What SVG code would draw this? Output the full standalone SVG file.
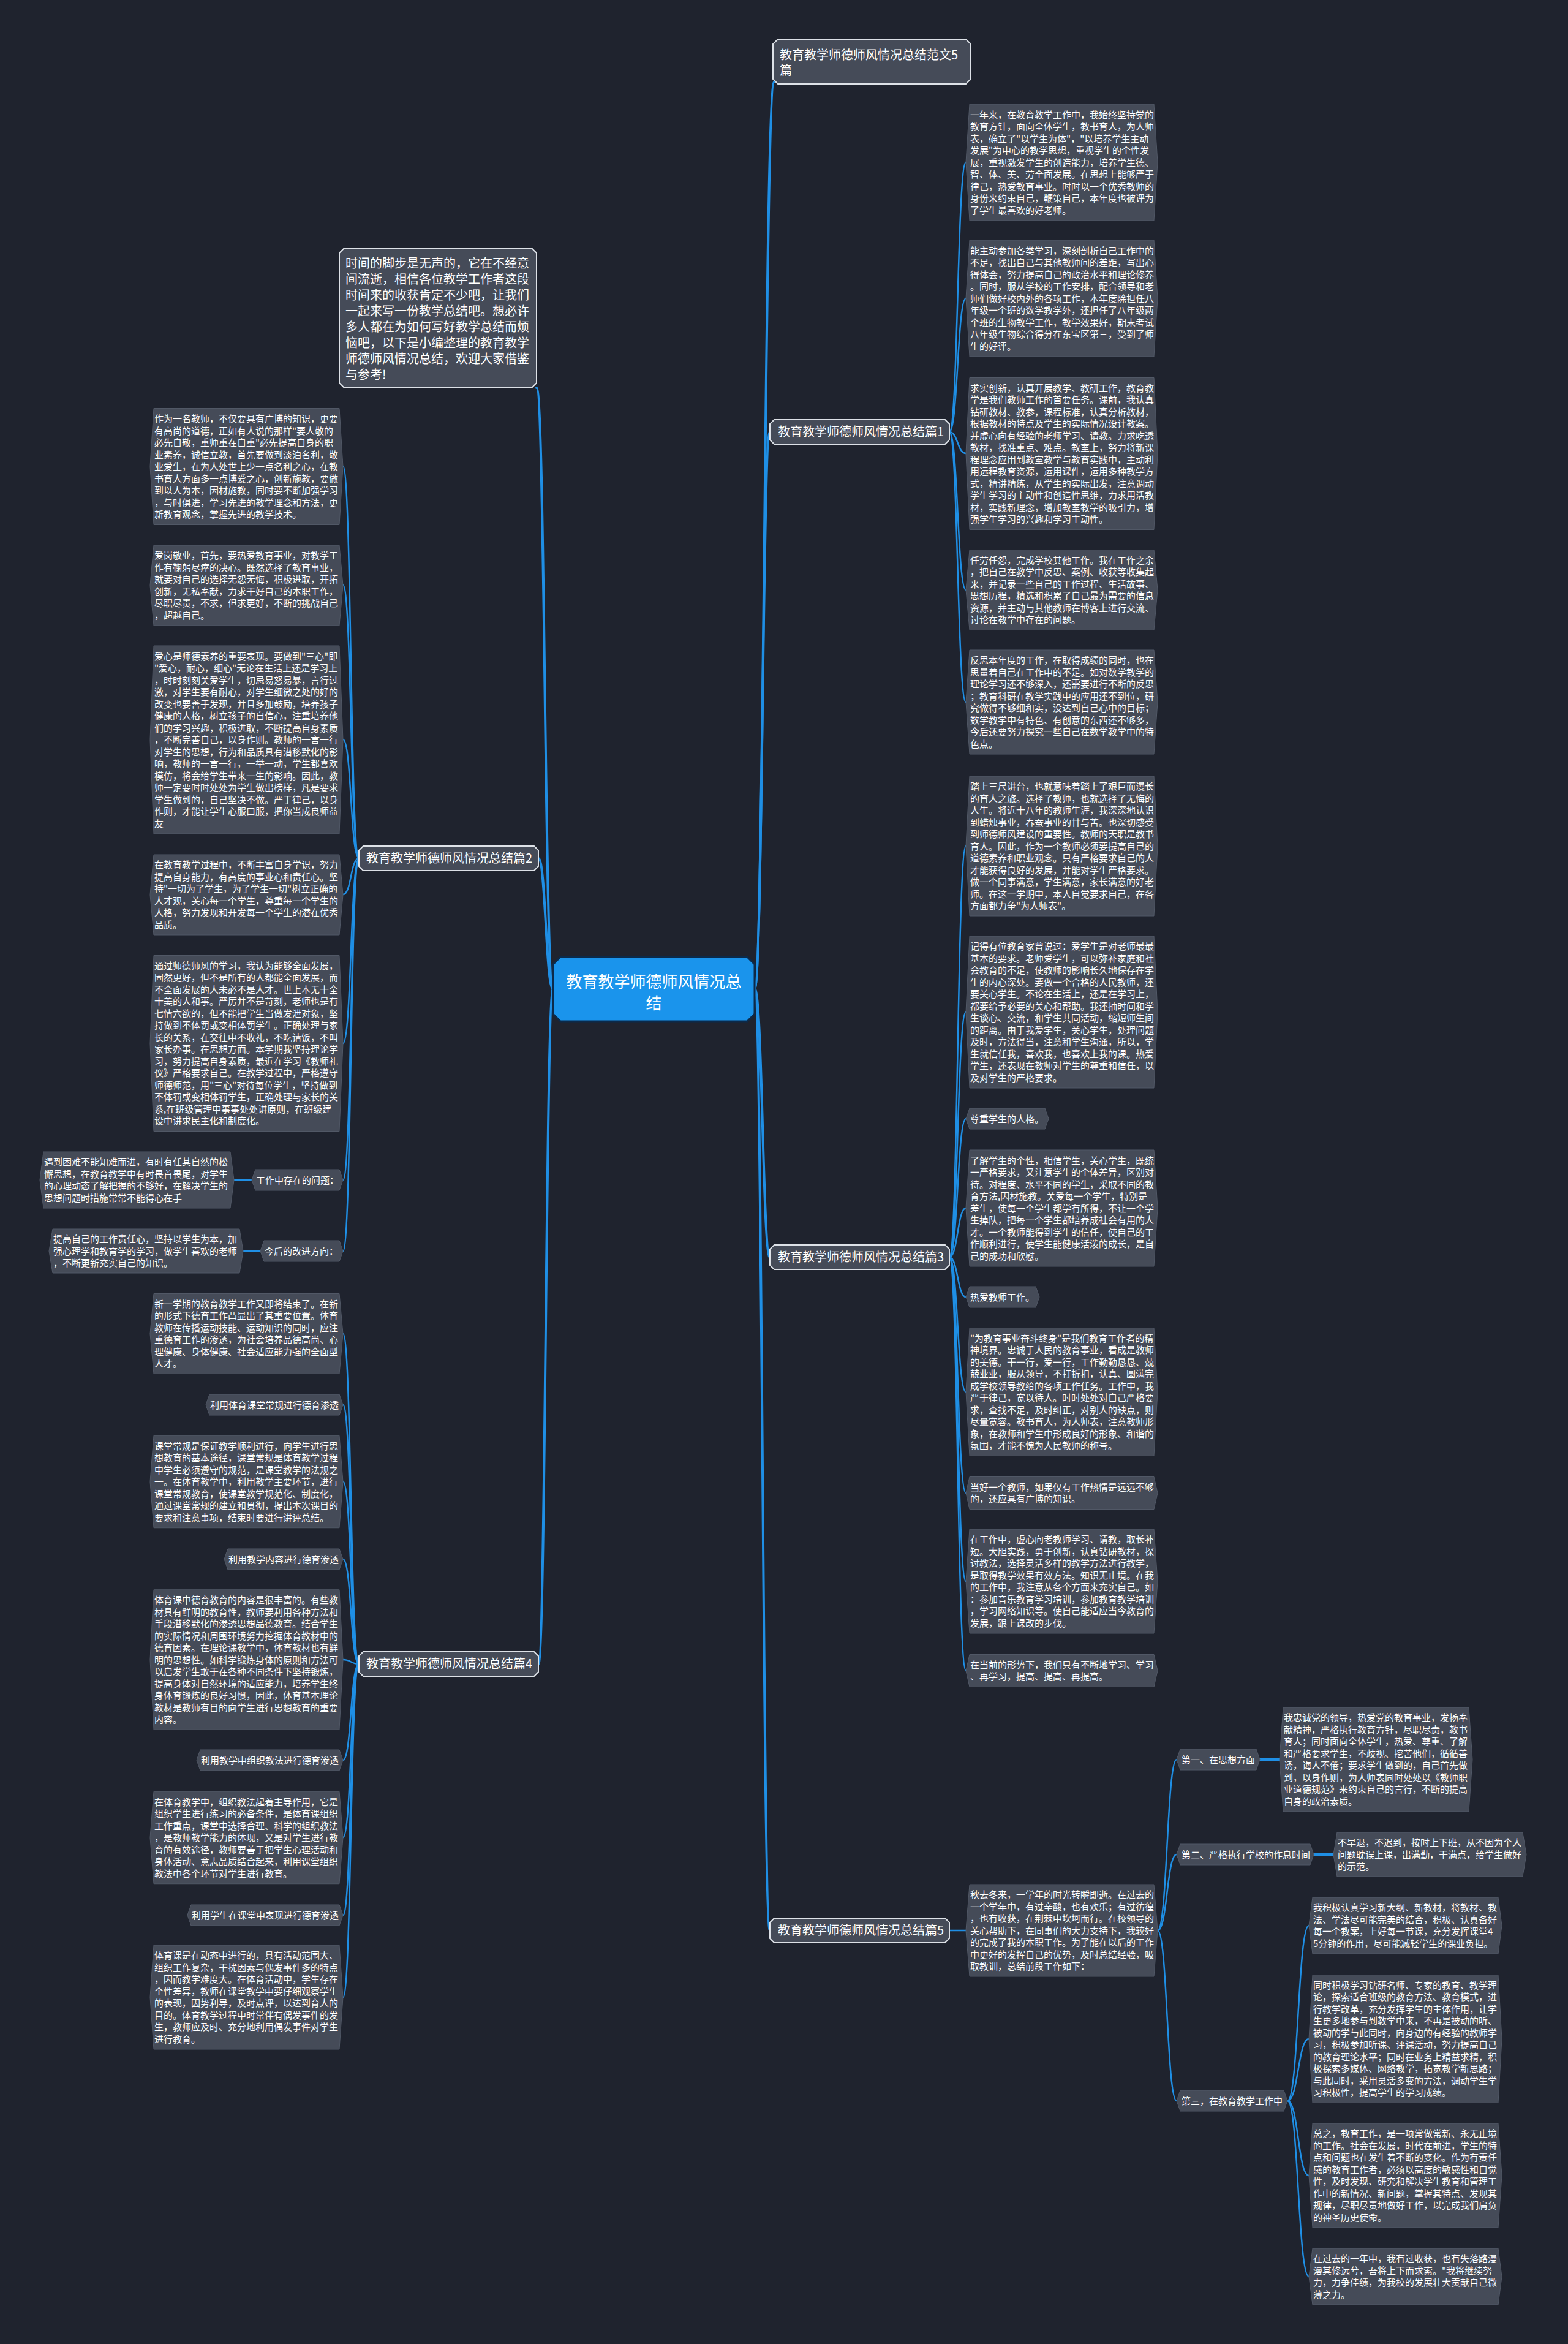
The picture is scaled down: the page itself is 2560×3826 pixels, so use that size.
<svg xmlns="http://www.w3.org/2000/svg" width="2560" height="3826" viewBox="0 0 2560 3826">
<style>
.bg{fill:#1f232e}
.lf{fill:#454b58;stroke:#515866;stroke-width:1}
.mb{fill:#454b58;stroke:#dde1e7;stroke-width:2}
.cn{fill:#1a94ec;stroke:#0c2a4a;stroke-width:3}
.c{fill:none;stroke:#1f8fe5;stroke-width:2.5;stroke-linecap:round}
.c1{fill:none;stroke:#1f8fe5;stroke-width:4;stroke-linecap:round}
text{font-family:"Noto Sans CJK SC","Noto Sans",sans-serif;fill:#ffffff}
.t{font-size:15px}
.tm{font-size:20px}
.tc{font-size:26px;text-anchor:middle}
</style>
<rect class="bg" x="0" y="0" width="2560" height="3826"/>
<g id="connectors">
<path class="c1" d="M1232 1614 C1248 1614 1248 134 1264 134"/>
<path class="c1" d="M1232 1614 C1245 1614 1245 705 1257 705"/>
<path class="c1" d="M1232 1614 C1245 1614 1245 2052 1257 2052"/>
<path class="c1" d="M1232 1614 C1245 1614 1245 3151 1257 3151"/>
<path class="c1" d="M903 1614 C889 1614 890 633 876 633"/>
<path class="c1" d="M903 1614 C891 1614 891 1401 879 1401"/>
<path class="c1" d="M903 1614 C891 1614 891 2716 879 2716"/>
<path class="c" d="M1550 705 C1564 705 1563 265 1577 265"/>
<path class="c" d="M1550 705 C1564 705 1563 487 1577 487"/>
<path class="c" d="M1550 705 C1564 705 1563 740 1577 740"/>
<path class="c" d="M1550 705 C1564 705 1563 963 1577 963"/>
<path class="c" d="M1550 705 C1564 705 1563 1146 1577 1146"/>
<path class="c" d="M1550 2052 C1564 2052 1563 1381 1577 1381"/>
<path class="c" d="M1550 2052 C1564 2052 1563 1652 1577 1652"/>
<path class="c" d="M1550 2052 C1564 2052 1563 1826 1577 1826"/>
<path class="c" d="M1550 2052 C1564 2052 1563 1972 1577 1972"/>
<path class="c" d="M1550 2052 C1564 2052 1563 2117 1577 2117"/>
<path class="c" d="M1550 2052 C1564 2052 1563 2272 1577 2272"/>
<path class="c" d="M1550 2052 C1564 2052 1563 2437 1577 2437"/>
<path class="c" d="M1550 2052 C1564 2052 1563 2581 1577 2581"/>
<path class="c" d="M1550 2052 C1564 2052 1563 2727 1577 2727"/>
<path class="c" d="M1550 3151 L1577 3151"/>
<path class="c" d="M1890 3151 C1906 3151 1905 2872 1921 2872"/>
<path class="c" d="M1890 3151 C1906 3151 1905 3027 1921 3027"/>
<path class="c" d="M1890 3151 C1906 3151 1905 3429 1921 3429"/>
<path class="c1" d="M2057 2872 L2089 2872"/>
<path class="c1" d="M2145 3027 L2177 3027"/>
<path class="c" d="M2102 3429 C2120 3429 2119 3143 2137 3143"/>
<path class="c" d="M2102 3429 C2120 3429 2119 3328 2137 3328"/>
<path class="c" d="M2102 3429 C2120 3429 2119 3551 2137 3551"/>
<path class="c" d="M2102 3429 C2120 3429 2119 3716 2137 3716"/>
<path class="c" d="M586 1401 C572 1401 574 761 560 761"/>
<path class="c" d="M586 1401 C572 1401 574 955 560 955"/>
<path class="c" d="M586 1401 C572 1401 574 1207 560 1207"/>
<path class="c" d="M586 1401 C572 1401 574 1460 560 1460"/>
<path class="c" d="M586 1401 C572 1401 574 1703 560 1703"/>
<path class="c" d="M586 1401 C572 1401 574 1926 560 1926"/>
<path class="c" d="M586 1401 C572 1401 574 2042 560 2042"/>
<path class="c1" d="M411 1926 L382 1926"/>
<path class="c1" d="M425 2042 L397 2042"/>
<path class="c" d="M586 2716 C572 2716 574 2177 560 2177"/>
<path class="c" d="M586 2716 C572 2716 574 2293 560 2293"/>
<path class="c" d="M586 2716 C572 2716 574 2418 560 2418"/>
<path class="c" d="M586 2716 C572 2716 574 2545 560 2545"/>
<path class="c" d="M586 2716 C572 2716 574 2709 560 2709"/>
<path class="c" d="M586 2716 C572 2716 574 2873 560 2873"/>
<path class="c" d="M586 2716 C572 2716 574 2999 560 2999"/>
<path class="c" d="M586 2716 C572 2716 574 3126 560 3126"/>
<path class="c" d="M586 2716 C572 2716 574 3260 560 3260"/>
</g>
<g id="center">
<polygon class="cn" points="915,1562 1220,1562 1232,1574 1232,1655 1220,1667 915,1667 903,1655 903,1574"/>
<text class="tc" x="1067.5" y="1612">教育教学师德师风情况总</text>
<text class="tc" x="1067.5" y="1647">结</text>
</g>
<g id="b0">
<polygon class="mb" points="1270,64 1577,64 1585,72 1585,129 1577,137 1270,137 1262,129 1262,72"/>
<text class="tm" x="1273" y="97">教育教学师德师风情况总结范文5<tspan x="1273" dy="25">篇</tspan></text>
</g>
<g id="intro">
<polygon class="mb" points="562,405 868,405 876,413 876,625 868,633 562,633 554,625 554,413"/>
<text class="tm" x="564" y="437">时间的脚步是无声的，它在不经意<tspan x="564" dy="26">间流逝，相信各位教学工作者这段</tspan><tspan x="564" dy="26">时间来的收获肯定不少吧，让我们</tspan><tspan x="564" dy="26">一起来写一份教学总结吧。想必许</tspan><tspan x="564" dy="26">多人都在为如何写好教学总结而烦</tspan><tspan x="564" dy="26">恼吧，以下是小编整理的教育教学</tspan><tspan x="564" dy="26">师德师风情况总结，欢迎大家借鉴</tspan><tspan x="564" dy="26">与参考!</tspan></text>
</g>
<g id="b1">
<polygon class="mb" points="1264,685 1543,685 1550,692 1550,718 1543,725 1264,725 1257,718 1257,692"/>
<text class="tm" x="1270" y="712">教育教学师德师风情况总结篇1</text>
</g>
<g id="b3">
<polygon class="mb" points="1264,2032 1543,2032 1550,2039 1550,2065 1543,2072 1264,2072 1257,2065 1257,2039"/>
<text class="tm" x="1270" y="2059">教育教学师德师风情况总结篇3</text>
</g>
<g id="b5">
<polygon class="mb" points="1264,3131 1543,3131 1550,3138 1550,3164 1543,3171 1264,3171 1257,3164 1257,3138"/>
<text class="tm" x="1270" y="3158">教育教学师德师风情况总结篇5</text>
</g>
<g id="b2">
<polygon class="mb" points="593,1381 872,1381 879,1388 879,1414 872,1421 593,1421 586,1414 586,1388"/>
<text class="tm" x="598" y="1408">教育教学师德师风情况总结篇2</text>
</g>
<g id="b4">
<polygon class="mb" points="593,2696 872,2696 879,2703 879,2729 872,2736 593,2736 586,2729 586,2703"/>
<text class="tm" x="598" y="2723">教育教学师德师风情况总结篇4</text>
</g>
<g id="b1-1">
<polygon class="lf" points="1583,170 1884,170 1890,265 1884,360 1583,360 1577,265"/>
<text class="t" x="1584" y="192.5">一年来，在教育教学工作中，我始终坚持党的<tspan x="1584" dy="19.5">教育方针，面向全体学生，教书育人，为人师</tspan><tspan x="1584" dy="19.5">表，确立了"以学生为体"，"以培养学生主动</tspan><tspan x="1584" dy="19.5">发展"为中心的教学思想，重视学生的个性发</tspan><tspan x="1584" dy="19.5">展，重视激发学生的创造能力，培养学生德、</tspan><tspan x="1584" dy="19.5">智、体、美、劳全面发展。在思想上能够严于</tspan><tspan x="1584" dy="19.5">律己，热爱教育事业。时时以一个优秀教师的</tspan><tspan x="1584" dy="19.5">身份来约束自己，鞭策自己，本年度也被评为</tspan><tspan x="1584" dy="19.5">了学生最喜欢的好老师。</tspan></text>
</g>
<g id="b1-2">
<polygon class="lf" points="1583,392 1884,392 1890,487 1884,582 1583,582 1577,487"/>
<text class="t" x="1584" y="414.5">能主动参加各类学习，深刻剖析自己工作中的<tspan x="1584" dy="19.5">不足，找出自己与其他教师间的差距，写出心</tspan><tspan x="1584" dy="19.5">得体会，努力提高自己的政治水平和理论修养</tspan><tspan x="1584" dy="19.5">。同时，服从学校的工作安排，配合领导和老</tspan><tspan x="1584" dy="19.5">师们做好校内外的各项工作，本年度除担任八</tspan><tspan x="1584" dy="19.5">年级一个班的数学教学外，还担任了八年级两</tspan><tspan x="1584" dy="19.5">个班的生物教学工作，教学效果好，期末考试</tspan><tspan x="1584" dy="19.5">八年级生物综合得分在东宝区第三，受到了师</tspan><tspan x="1584" dy="19.5">生的好评。</tspan></text>
</g>
<g id="b1-3">
<polygon class="lf" points="1583,616.5 1884,616.5 1890,740.5 1884,864.5 1583,864.5 1577,740.5"/>
<text class="t" x="1584" y="638.75">求实创新，认真开展教学、教研工作，教育教<tspan x="1584" dy="19.5">学是我们教师工作的首要任务。课前，我认真</tspan><tspan x="1584" dy="19.5">钻研教材、教参，课程标准，认真分析教材，</tspan><tspan x="1584" dy="19.5">根据教材的特点及学生的实际情况设计教案。</tspan><tspan x="1584" dy="19.5">并虚心向有经验的老师学习、请教。力求吃透</tspan><tspan x="1584" dy="19.5">教材，找准重点、难点。教室上，努力将新课</tspan><tspan x="1584" dy="19.5">程理念应用到教室教学与教育实践中，主动利</tspan><tspan x="1584" dy="19.5">用远程教育资源，运用课件，运用多种教学方</tspan><tspan x="1584" dy="19.5">式，精讲精练，从学生的实际出发，注意调动</tspan><tspan x="1584" dy="19.5">学生学习的主动性和创造性思维，力求用活教</tspan><tspan x="1584" dy="19.5">材，实践新理念，增加教室教学的吸引力，增</tspan><tspan x="1584" dy="19.5">强学生学习的兴趣和学习主动性。</tspan></text>
</g>
<g id="b1-4">
<polygon class="lf" points="1583,897.5 1884,897.5 1890,963 1884,1028.5 1583,1028.5 1577,963"/>
<text class="t" x="1584" y="919.75">任劳任怨，完成学校其他工作。我在工作之余<tspan x="1584" dy="19.5">，把自己在教学中反思、案例、收获等收集起</tspan><tspan x="1584" dy="19.5">来，并记录一些自己的工作过程、生活故事、</tspan><tspan x="1584" dy="19.5">思想历程，精选和积累了自己最为需要的信息</tspan><tspan x="1584" dy="19.5">资源，并主动与其他教师在博客上进行交流、</tspan><tspan x="1584" dy="19.5">讨论在教学中存在的问题。</tspan></text>
</g>
<g id="b1-5">
<polygon class="lf" points="1583,1061 1884,1061 1890,1146 1884,1231 1583,1231 1577,1146"/>
<text class="t" x="1584" y="1083.25">反思本年度的工作，在取得成绩的同时，也在<tspan x="1584" dy="19.5">思量着自己在工作中的不足。如对数学教学的</tspan><tspan x="1584" dy="19.5">理论学习还不够深入，还需要进行不断的反思</tspan><tspan x="1584" dy="19.5">；教育科研在教学实践中的应用还不到位，研</tspan><tspan x="1584" dy="19.5">究做得不够细和实，没达到自己心中的目标；</tspan><tspan x="1584" dy="19.5">数学教学中有特色、有创意的东西还不够多，</tspan><tspan x="1584" dy="19.5">今后还要努力探究一些自己在数学教学中的特</tspan><tspan x="1584" dy="19.5">色点。</tspan></text>
</g>
<g id="b3-1">
<polygon class="lf" points="1583,1267 1884,1267 1890,1381 1884,1495 1583,1495 1577,1381"/>
<text class="t" x="1584" y="1289">踏上三尺讲台，也就意味着踏上了艰巨而漫长<tspan x="1584" dy="19.5">的育人之旅。选择了教师，也就选择了无悔的</tspan><tspan x="1584" dy="19.5">人生。将近十八年的教师生涯，我深深地认识</tspan><tspan x="1584" dy="19.5">到蜡烛事业，春蚕事业的甘与苦。也深切感受</tspan><tspan x="1584" dy="19.5">到师德师风建设的重要性。教师的天职是教书</tspan><tspan x="1584" dy="19.5">育人。因此，作为一个教师必须要提高自己的</tspan><tspan x="1584" dy="19.5">道德素养和职业观念。只有严格要求自己的人</tspan><tspan x="1584" dy="19.5">才能获得良好的发展，并能对学生严格要求。</tspan><tspan x="1584" dy="19.5">做一个同事满意，学生满意，家长满意的好老</tspan><tspan x="1584" dy="19.5">师。在这一学期中，本人自觉要求自己，在各</tspan><tspan x="1584" dy="19.5">方面都力争"为人师表"。</tspan></text>
</g>
<g id="b3-2">
<polygon class="lf" points="1583,1528 1884,1528 1890,1652 1884,1776 1583,1776 1577,1652"/>
<text class="t" x="1584" y="1550.25">记得有位教育家曾说过：爱学生是对老师最最<tspan x="1584" dy="19.5">基本的要求。老师爱学生，可以弥补家庭和社</tspan><tspan x="1584" dy="19.5">会教育的不足，使教师的影响长久地保存在学</tspan><tspan x="1584" dy="19.5">生的内心深处。要做一个合格的人民教师，还</tspan><tspan x="1584" dy="19.5">要关心学生。不论在生活上，还是在学习上，</tspan><tspan x="1584" dy="19.5">都要给予必要的关心和帮助。我还抽时间和学</tspan><tspan x="1584" dy="19.5">生谈心、交流，和学生共同活动，缩短师生间</tspan><tspan x="1584" dy="19.5">的距离。由于我爱学生，关心学生，处理问题</tspan><tspan x="1584" dy="19.5">及时，方法得当，注意和学生沟通，所以，学</tspan><tspan x="1584" dy="19.5">生就信任我，喜欢我，也喜欢上我的课。热爱</tspan><tspan x="1584" dy="19.5">学生，还表现在教师对学生的尊重和信任，以</tspan><tspan x="1584" dy="19.5">及对学生的严格要求。</tspan></text>
</g>
<g id="b3-3">
<polygon class="lf" points="1583,1809 1706,1809 1712,1826 1706,1843 1583,1843 1577,1826"/>
<text class="t" x="1584" y="1831.5">尊重学生的人格。</text>
</g>
<g id="b3-4">
<polygon class="lf" points="1583,1877 1884,1877 1890,1972 1884,2067 1583,2067 1577,1972"/>
<text class="t" x="1584" y="1899.5">了解学生的个性，相信学生，关心学生，既统<tspan x="1584" dy="19.5">一严格要求，又注意学生的个体差异，区别对</tspan><tspan x="1584" dy="19.5">待。对程度、水平不同的学生，采取不同的教</tspan><tspan x="1584" dy="19.5">育方法,因材施教。关爱每一个学生，特别是</tspan><tspan x="1584" dy="19.5">差生，使每一个学生都学有所得，不让一个学</tspan><tspan x="1584" dy="19.5">生掉队，把每一个学生都培养成社会有用的人</tspan><tspan x="1584" dy="19.5">才。一个教师能得到学生的信任，使自己的工</tspan><tspan x="1584" dy="19.5">作顺利进行，使学生能健康活泼的成长，是自</tspan><tspan x="1584" dy="19.5">己的成功和欣慰。</tspan></text>
</g>
<g id="b3-5">
<polygon class="lf" points="1583,2100 1691,2100 1697,2117 1691,2134 1583,2134 1577,2117"/>
<text class="t" x="1584" y="2122.5">热爱教师工作。</text>
</g>
<g id="b3-6">
<polygon class="lf" points="1583,2167.5 1884,2167.5 1890,2272 1884,2376.5 1583,2376.5 1577,2272"/>
<text class="t" x="1584" y="2189.75">"为教育事业奋斗终身"是我们教育工作者的精<tspan x="1584" dy="19.5">神境界。忠诚于人民的教育事业，看成是教师</tspan><tspan x="1584" dy="19.5">的美德。干一行，爱一行，工作勤勤恳恳、兢</tspan><tspan x="1584" dy="19.5">兢业业，服从领导，不打折扣，认真、圆满完</tspan><tspan x="1584" dy="19.5">成学校领导教给的各项工作任务。工作中，我</tspan><tspan x="1584" dy="19.5">严于律己，宽以待人。时时处处对自己严格要</tspan><tspan x="1584" dy="19.5">求，查找不足，及时纠正，对别人的缺点，则</tspan><tspan x="1584" dy="19.5">尽量宽容。教书育人，为人师表，注意教师形</tspan><tspan x="1584" dy="19.5">象，在教师和学生中形成良好的形象、和谐的</tspan><tspan x="1584" dy="19.5">氛围，才能不愧为人民教师的称号。</tspan></text>
</g>
<g id="b3-7">
<polygon class="lf" points="1583,2410.5 1884,2410.5 1890,2437 1884,2463.5 1583,2463.5 1577,2437"/>
<text class="t" x="1584" y="2432.75">当好一个教师，如果仅有工作热情是远远不够<tspan x="1584" dy="19.5">的，还应具有广博的知识。</tspan></text>
</g>
<g id="b3-8">
<polygon class="lf" points="1583,2496 1884,2496 1890,2581 1884,2666 1583,2666 1577,2581"/>
<text class="t" x="1584" y="2518.25">在工作中，虚心向老教师学习、请教，取长补<tspan x="1584" dy="19.5">短。大胆实践，勇于创新，认真钻研教材，探</tspan><tspan x="1584" dy="19.5">讨教法，选择灵活多样的教学方法进行教学，</tspan><tspan x="1584" dy="19.5">是取得教学效果有效方法。知识无止境。在我</tspan><tspan x="1584" dy="19.5">的工作中，我注意从各个方面来充实自己。如</tspan><tspan x="1584" dy="19.5">：参加音乐教育学习培训，参加教育教学培训</tspan><tspan x="1584" dy="19.5">，学习网络知识等。使自己能适应当今教育的</tspan><tspan x="1584" dy="19.5">发展，跟上课改的步伐。</tspan></text>
</g>
<g id="b3-9">
<polygon class="lf" points="1583,2700.5 1884,2700.5 1890,2727 1884,2753.5 1583,2753.5 1577,2727"/>
<text class="t" x="1584" y="2722.75">在当前的形势下，我们只有不断地学习、学习<tspan x="1584" dy="19.5">、再学习，提高、提高、再提高。</tspan></text>
</g>
<g id="b5-0">
<polygon class="lf" points="1583,3076 1884,3076 1890,3151 1884,3226 1583,3226 1577,3151"/>
<text class="t" x="1584" y="3098">秋去冬来，一学年的时光转瞬即逝。在过去的<tspan x="1584" dy="19.5">一个学年中，有过辛酸，也有欢乐；有过彷徨</tspan><tspan x="1584" dy="19.5">，也有收获，在荆棘中坎坷而行。在校领导的</tspan><tspan x="1584" dy="19.5">关心帮助下，在同事们的大力支持下，我较好</tspan><tspan x="1584" dy="19.5">的完成了我的本职工作。为了能在以后的工作</tspan><tspan x="1584" dy="19.5">中更好的发挥自己的优势，及时总结经验，吸</tspan><tspan x="1584" dy="19.5">取教训，总结前段工作如下：</tspan></text>
</g>
<g id="b5-1">
<polygon class="lf" points="1927,2855 2051,2855 2057,2872 2051,2889 1927,2889 1921,2872"/>
<text class="t" x="1929" y="2877.5">第一、在思想方面</text>
</g>
<g id="b5-1a">
<polygon class="lf" points="2095,2787 2398,2787 2404,2872 2398,2957 2095,2957 2089,2872"/>
<text class="t" x="2096" y="2809.25">我忠诚党的领导，热爱党的教育事业，发扬奉<tspan x="2096" dy="19.5">献精神，严格执行教育方针，尽职尽责，教书</tspan><tspan x="2096" dy="19.5">育人；同时面向全体学生，热爱、尊重、了解</tspan><tspan x="2096" dy="19.5">和严格要求学生，不歧视、挖苦他们，循循善</tspan><tspan x="2096" dy="19.5">诱，诲人不倦；要求学生做到的，自己首先做</tspan><tspan x="2096" dy="19.5">到，以身作则，为人师表同时处处以《教师职</tspan><tspan x="2096" dy="19.5">业道德规范》来约束自己的言行，不断的提高</tspan><tspan x="2096" dy="19.5">自身的政治素质。</tspan></text>
</g>
<g id="b5-2">
<polygon class="lf" points="1927,3010 2139,3010 2145,3027 2139,3044 1927,3044 1921,3027"/>
<text class="t" x="1929" y="3032.5">第二、严格执行学校的作息时间</text>
</g>
<g id="b5-2a">
<polygon class="lf" points="2183,2991 2486,2991 2492,3027 2486,3063 2183,3063 2177,3027"/>
<text class="t" x="2184" y="3013">不早退，不迟到，按时上下班，从不因为个人<tspan x="2184" dy="19.5">问题耽误上课，出满勤，干满点，给学生做好</tspan><tspan x="2184" dy="19.5">的示范。</tspan></text>
</g>
<g id="b5-3">
<polygon class="lf" points="1927,3412 2096,3412 2102,3429 2096,3446 1927,3446 1921,3429"/>
<text class="t" x="1929" y="3434.5">第三，在教育教学工作中</text>
</g>
<g id="b5-3a">
<polygon class="lf" points="2143,3097 2446,3097 2452,3143 2446,3189 2143,3189 2137,3143"/>
<text class="t" x="2144" y="3119.25">我积极认真学习新大纲、新教材，将教材、教<tspan x="2144" dy="19.5">法、学法尽可能完美的结合，积极、认真备好</tspan><tspan x="2144" dy="19.5">每一个教案，上好每一节课，充分发挥课堂4</tspan><tspan x="2144" dy="19.5">5分钟的作用，尽可能减轻学生的课业负担。</tspan></text>
</g>
<g id="b5-3b">
<polygon class="lf" points="2143,3223.5 2446,3223.5 2452,3328 2446,3432.5 2143,3432.5 2137,3328"/>
<text class="t" x="2144" y="3245.75">同时积极学习钻研名师、专家的教育、教学理<tspan x="2144" dy="19.5">论，探索适合班级的教育方法、教育模式，进</tspan><tspan x="2144" dy="19.5">行教学改革，充分发挥学生的主体作用，让学</tspan><tspan x="2144" dy="19.5">生更多地参与到教学中来，不再是被动的听、</tspan><tspan x="2144" dy="19.5">被动的学与此同时，向身边的有经验的教师学</tspan><tspan x="2144" dy="19.5">习，积极参加听课、评课活动，努力提高自己</tspan><tspan x="2144" dy="19.5">的教育理论水平；同时在业务上精益求精，积</tspan><tspan x="2144" dy="19.5">极探索多媒体、网络教学，拓宽教学新思路；</tspan><tspan x="2144" dy="19.5">与此同时，采用灵活多变的方法，调动学生学</tspan><tspan x="2144" dy="19.5">习积极性，提高学生的学习成绩。</tspan></text>
</g>
<g id="b5-3c">
<polygon class="lf" points="2143,3466 2446,3466 2452,3551 2446,3636 2143,3636 2137,3551"/>
<text class="t" x="2144" y="3488.25">总之，教育工作，是一项常做常新、永无止境<tspan x="2144" dy="19.5">的工作。社会在发展，时代在前进，学生的特</tspan><tspan x="2144" dy="19.5">点和问题也在发生着不断的变化。作为有责任</tspan><tspan x="2144" dy="19.5">感的教育工作者，必须以高度的敏感性和自觉</tspan><tspan x="2144" dy="19.5">性，及时发现、研究和解决学生教育和管理工</tspan><tspan x="2144" dy="19.5">作中的新情况、新问题，掌握其特点、发现其</tspan><tspan x="2144" dy="19.5">规律，尽职尽责地做好工作，以完成我们肩负</tspan><tspan x="2144" dy="19.5">的神圣历史使命。</tspan></text>
</g>
<g id="b5-3d">
<polygon class="lf" points="2143,3670 2446,3670 2452,3716 2446,3762 2143,3762 2137,3716"/>
<text class="t" x="2144" y="3692.25">在过去的一年中，我有过收获，也有失落路漫<tspan x="2144" dy="19.5">漫其修远兮，吾将上下而求索。"我将继续努</tspan><tspan x="2144" dy="19.5">力，力争佳绩，为我校的发展壮大贡献自己微</tspan><tspan x="2144" dy="19.5">薄之力。</tspan></text>
</g>
<g id="b2-1">
<polygon class="lf" points="251,666.5 554,666.5 560,761.5 554,856.5 251,856.5 245,761.5"/>
<text class="t" x="252" y="689">作为一名教师，不仅要具有广博的知识，更要<tspan x="252" dy="19.5">有高尚的道德，正如有人说的那样"要人敬的</tspan><tspan x="252" dy="19.5">必先自敬，重师重在自重"必先提高自身的职</tspan><tspan x="252" dy="19.5">业素养，诚信立教，首先要做到淡泊名利，敬</tspan><tspan x="252" dy="19.5">业爱生，在为人处世上少一点名利之心，在教</tspan><tspan x="252" dy="19.5">书育人方面多一点博爱之心，创新施教，要做</tspan><tspan x="252" dy="19.5">到以人为本，因材施教，同时要不断加强学习</tspan><tspan x="252" dy="19.5">，与时俱进，学习先进的教学理念和方法，更</tspan><tspan x="252" dy="19.5">新教育观念，掌握先进的教学技术。</tspan></text>
</g>
<g id="b2-2">
<polygon class="lf" points="251,890 554,890 560,955.5 554,1021 251,1021 245,955.5"/>
<text class="t" x="252" y="912.25">爱岗敬业，首先，要热爱教育事业，对教学工<tspan x="252" dy="19.5">作有鞠躬尽瘁的决心。既然选择了教育事业，</tspan><tspan x="252" dy="19.5">就要对自己的选择无怨无悔，积极进取，开拓</tspan><tspan x="252" dy="19.5">创新，无私奉献，力求干好自己的本职工作，</tspan><tspan x="252" dy="19.5">尽职尽责，不求，但求更好，不断的挑战自己</tspan><tspan x="252" dy="19.5">，超越自己。</tspan></text>
</g>
<g id="b2-3">
<polygon class="lf" points="251,1054 554,1054 560,1207.5 554,1361 251,1361 245,1207.5"/>
<text class="t" x="252" y="1076.5">爱心是师德素养的重要表现。要做到"三心"即<tspan x="252" dy="19.5">"爱心，耐心，细心"无论在生活上还是学习上</tspan><tspan x="252" dy="19.5">，时时刻刻关爱学生，切忌易怒易暴，言行过</tspan><tspan x="252" dy="19.5">激，对学生要有耐心，对学生细微之处的好的</tspan><tspan x="252" dy="19.5">改变也要善于发现，并且多加鼓励，培养孩子</tspan><tspan x="252" dy="19.5">健康的人格，树立孩子的自信心，注重培养他</tspan><tspan x="252" dy="19.5">们的学习兴趣，积极进取，不断提高自身素质</tspan><tspan x="252" dy="19.5">，不断完善自己，以身作则。教师的一言一行</tspan><tspan x="252" dy="19.5">对学生的思想，行为和品质具有潜移默化的影</tspan><tspan x="252" dy="19.5">响，教师的一言一行，一举一动，学生都喜欢</tspan><tspan x="252" dy="19.5">模仿，将会给学生带来一生的影响。因此，教</tspan><tspan x="252" dy="19.5">师一定要时时处处为学生做出榜样，凡是要求</tspan><tspan x="252" dy="19.5">学生做到的，自己坚决不做。严于律己，以身</tspan><tspan x="252" dy="19.5">作则，才能让学生心服口服，把你当成良师益</tspan><tspan x="252" dy="19.5">友</tspan></text>
</g>
<g id="b2-4">
<polygon class="lf" points="251,1395 554,1395 560,1460.5 554,1526 251,1526 245,1460.5"/>
<text class="t" x="252" y="1417.25">在教育教学过程中，不断丰富自身学识，努力<tspan x="252" dy="19.5">提高自身能力，有高度的事业心和责任心。坚</tspan><tspan x="252" dy="19.5">持"一切为了学生，为了学生一切"树立正确的</tspan><tspan x="252" dy="19.5">人才观，关心每一个学生，尊重每一个学生的</tspan><tspan x="252" dy="19.5">人格，努力发现和开发每一个学生的潜在优秀</tspan><tspan x="252" dy="19.5">品质。</tspan></text>
</g>
<g id="b2-5">
<polygon class="lf" points="251,1559.5 554,1559.5 560,1703 554,1846.5 251,1846.5 245,1703"/>
<text class="t" x="252" y="1581.75">通过师德师风的学习，我认为能够全面发展，<tspan x="252" dy="19.5">固然更好，但不是所有的人都能全面发展，而</tspan><tspan x="252" dy="19.5">不全面发展的人未必不是人才。世上本无十全</tspan><tspan x="252" dy="19.5">十美的人和事。严厉并不是苛刻，老师也是有</tspan><tspan x="252" dy="19.5">七情六欲的，但不能把学生当做发泄对象，坚</tspan><tspan x="252" dy="19.5">持做到不体罚或变相体罚学生。正确处理与家</tspan><tspan x="252" dy="19.5">长的关系，在交往中不收礼，不吃请饭，不叫</tspan><tspan x="252" dy="19.5">家长办事。在思想方面。本学期我坚持理论学</tspan><tspan x="252" dy="19.5">习，努力提高自身素质，最近在学习《教师礼</tspan><tspan x="252" dy="19.5">仪》严格要求自己。在教学过程中，严格遵守</tspan><tspan x="252" dy="19.5">师德师范，用"三心"对待每位学生，坚持做到</tspan><tspan x="252" dy="19.5">不体罚或变相体罚学生，正确处理与家长的关</tspan><tspan x="252" dy="19.5">系,在班级管理中事事处处讲原则，在班级建</tspan><tspan x="252" dy="19.5">设中讲求民主化和制度化。</tspan></text>
</g>
<g id="b2-6">
<polygon class="lf" points="417,1909 554,1909 560,1926 554,1943 417,1943 411,1926"/>
<text class="t" x="418" y="1931.5">工作中存在的问题：</text>
</g>
<g id="b2-6a">
<polygon class="lf" points="71,1880 376,1880 382,1926 376,1972 71,1972 65,1926"/>
<text class="t" x="72" y="1902.25">遇到困难不能知难而进，有时有任其自然的松<tspan x="72" dy="19.5">懈思想，在教育教学中有时畏首畏尾，对学生</tspan><tspan x="72" dy="19.5">的心理动态了解把握的不够好，在解决学生的</tspan><tspan x="72" dy="19.5">思想问题时措施常常不能得心在手</tspan></text>
</g>
<g id="b2-7">
<polygon class="lf" points="431,2025 554,2025 560,2042 554,2059 431,2059 425,2042"/>
<text class="t" x="432" y="2047.5">今后的改进方向：</text>
</g>
<g id="b2-7a">
<polygon class="lf" points="86,2006 391,2006 397,2042 391,2078 86,2078 80,2042"/>
<text class="t" x="87" y="2028">提高自己的工作责任心，坚持以学生为本，加<tspan x="87" dy="19.5">强心理学和教育学的学习，做学生喜欢的老师</tspan><tspan x="87" dy="19.5">，不断更新充实自己的知识。</tspan></text>
</g>
<g id="b4-1">
<polygon class="lf" points="251,2111.5 554,2111.5 560,2177 554,2242.5 251,2242.5 245,2177"/>
<text class="t" x="252" y="2133.75">新一学期的教育教学工作又即将结束了。在新<tspan x="252" dy="19.5">的形式下德育工作凸显出了其重要位置。体育</tspan><tspan x="252" dy="19.5">教师在传播运动技能、运动知识的同时，应注</tspan><tspan x="252" dy="19.5">重德育工作的渗透，为社会培养品德高尚、心</tspan><tspan x="252" dy="19.5">理健康、身体健康、社会适应能力强的全面型</tspan><tspan x="252" dy="19.5">人才。</tspan></text>
</g>
<g id="b4-2">
<polygon class="lf" points="342,2276 554,2276 560,2293 554,2310 342,2310 336,2293"/>
<text class="t" x="343" y="2298.5">利用体育课堂常规进行德育渗透</text>
</g>
<g id="b4-3">
<polygon class="lf" points="251,2343.25 554,2343.25 560,2418.5 554,2493.75 251,2493.75 245,2418.5"/>
<text class="t" x="252" y="2365.5">课堂常规是保证教学顺利进行，向学生进行思<tspan x="252" dy="19.5">想教育的基本途径，课堂常规是体育教学过程</tspan><tspan x="252" dy="19.5">中学生必须遵守的规范，是课堂教学的法规之</tspan><tspan x="252" dy="19.5">一。在体育教学中，利用教学主要环节，进行</tspan><tspan x="252" dy="19.5">课堂常规教育，使课堂教学规范化、制度化，</tspan><tspan x="252" dy="19.5">通过课堂常规的建立和贯彻，提出本次课目的</tspan><tspan x="252" dy="19.5">要求和注意事项，结束时要进行讲评总结。</tspan></text>
</g>
<g id="b4-4">
<polygon class="lf" points="372,2528 554,2528 560,2545 554,2562 372,2562 366,2545"/>
<text class="t" x="373" y="2550.5">利用教学内容进行德育渗透</text>
</g>
<g id="b4-5">
<polygon class="lf" points="251,2594.75 554,2594.75 560,2709 554,2823.25 251,2823.25 245,2709"/>
<text class="t" x="252" y="2617">体育课中德育教育的内容是很丰富的。有些教<tspan x="252" dy="19.5">材具有鲜明的教育性，教师要利用各种方法和</tspan><tspan x="252" dy="19.5">手段潜移默化的渗透思想品德教育。结合学生</tspan><tspan x="252" dy="19.5">的实际情况和周围环境努力挖掘体育教材中的</tspan><tspan x="252" dy="19.5">德育因素。在理论课教学中，体育教材也有鲜</tspan><tspan x="252" dy="19.5">明的思想性。如科学锻炼身体的原则和方法可</tspan><tspan x="252" dy="19.5">以启发学生敢于在各种不同条件下坚持锻炼，</tspan><tspan x="252" dy="19.5">提高身体对自然环境的适应能力，培养学生终</tspan><tspan x="252" dy="19.5">身体育锻炼的良好习惯，因此，体育基本理论</tspan><tspan x="252" dy="19.5">教材是教师有目的向学生进行思想教育的重要</tspan><tspan x="252" dy="19.5">内容。</tspan></text>
</g>
<g id="b4-6">
<polygon class="lf" points="327,2856 554,2856 560,2873 554,2890 327,2890 321,2873"/>
<text class="t" x="328" y="2878.5">利用教学中组织教法进行德育渗透</text>
</g>
<g id="b4-7">
<polygon class="lf" points="251,2924.25 554,2924.25 560,2999.5 554,3074.75 251,3074.75 245,2999.5"/>
<text class="t" x="252" y="2946.5">在体育教学中，组织教法起着主导作用，它是<tspan x="252" dy="19.5">组织学生进行练习的必备条件，是体育课组织</tspan><tspan x="252" dy="19.5">工作重点，课堂中选择合理、科学的组织教法</tspan><tspan x="252" dy="19.5">，是教师教学能力的体现，又是对学生进行教</tspan><tspan x="252" dy="19.5">育的有效途径，教师要善于把学生心理活动和</tspan><tspan x="252" dy="19.5">身体活动、意志品质结合起来，利用课堂组织</tspan><tspan x="252" dy="19.5">教法中各个环节对学生进行教育。</tspan></text>
</g>
<g id="b4-8">
<polygon class="lf" points="312,3109 554,3109 560,3126 554,3143 312,3143 306,3126"/>
<text class="t" x="313" y="3131.5">利用学生在课堂中表现进行德育渗透</text>
</g>
<g id="b4-9">
<polygon class="lf" points="251,3175 554,3175 560,3260 554,3345 251,3345 245,3260"/>
<text class="t" x="252" y="3197.25">体育课是在动态中进行的，具有活动范围大、<tspan x="252" dy="19.5">组织工作复杂，干扰因素与偶发事件多的特点</tspan><tspan x="252" dy="19.5">，因而教学难度大。在体育活动中，学生存在</tspan><tspan x="252" dy="19.5">个性差异，教师在课堂教学中要仔细观察学生</tspan><tspan x="252" dy="19.5">的表现，因势利导，及时点评，以达到育人的</tspan><tspan x="252" dy="19.5">目的。体育教学过程中时常伴有偶发事件的发</tspan><tspan x="252" dy="19.5">生，教师应及时、充分地利用偶发事件对学生</tspan><tspan x="252" dy="19.5">进行教育。</tspan></text>
</g>
</svg>
